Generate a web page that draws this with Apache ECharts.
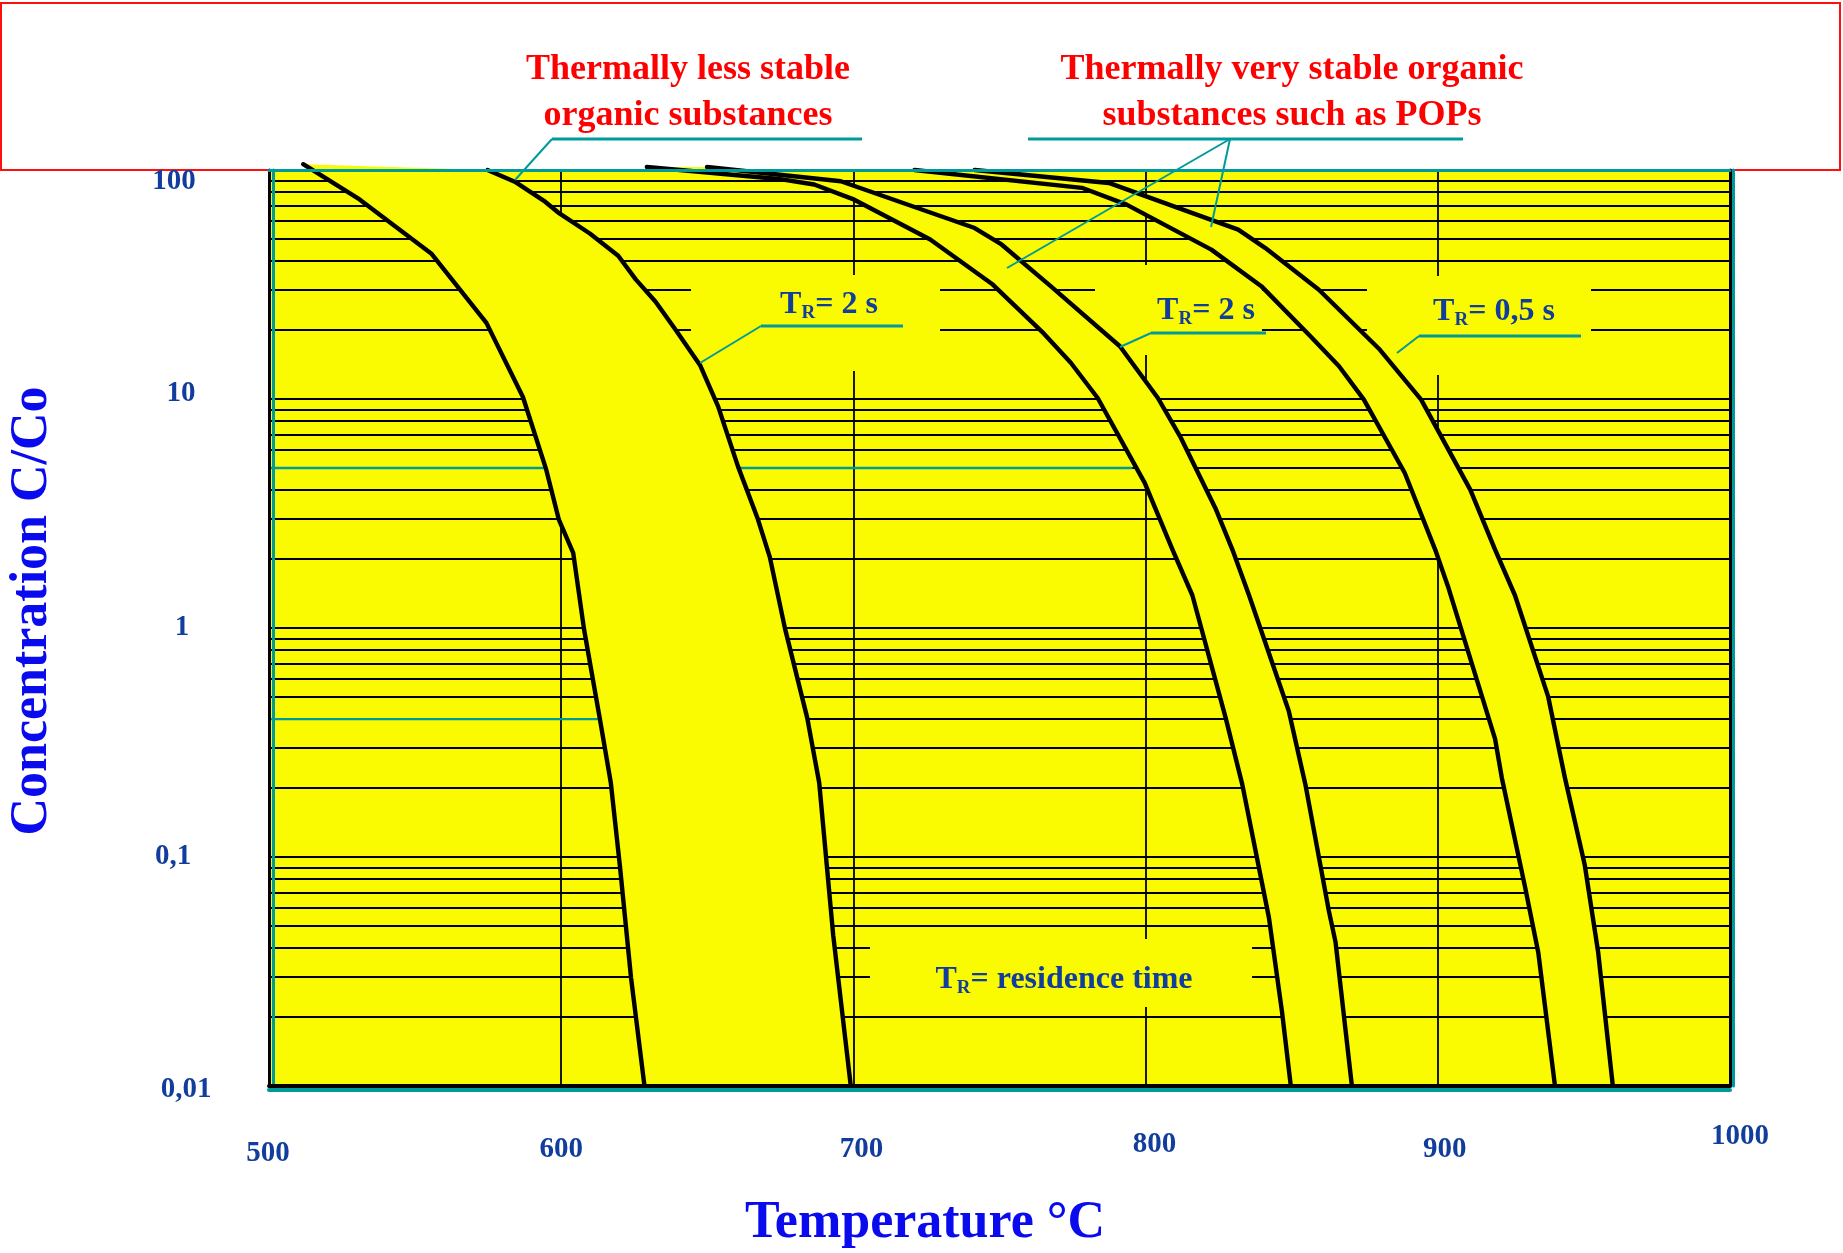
<!DOCTYPE html>
<html>
<head>
<meta charset="utf-8">
<title>Thermal destruction of organic substances</title>
<script src="https://cdn.jsdelivr.net/npm/echarts@6.0.0/dist/echarts.min.js"></script>
<style>
  html, body { margin: 0; padding: 0; background: #fff; }
  #chart { width: 1843px; height: 1253px; }
</style>
</head>
<body>
<div id="chart"></div>
<script>
// axis ticks
var tempTicks = [500, 600, 700, 800, 900, 1000];
var concTicks = [0.01, 0.1, 1, 10, 100];
var concTickLabels = ['0,01', '0,1', '1', '10', '100'];

// gridline layout of the log paper: decades x steps
var gridDecades = [0.01, 0.1, 1, 10];
var gridSteps = [1, 2, 3, 4, 5, 6, 7, 8, 9];

// curves, [temperature °C, C/Co]
var lessStableLow = [[511.7, 106], [531.0, 74.4], [555.5, 43.2], [574.4, 21.5], [586.9, 10.2],
  [594.9, 4.9], [599.2, 2.97], [604.1, 2.13], [607.8, 0.99], [613.2, 0.403], [617.0, 0.21],
  [620.1, 0.0912], [623.9, 0.0297], [628.5, 0.01]];
var lessStableHigh = [[574.8, 100], [584.1, 88.9], [594.5, 72.7], [599.4, 64.6], [609.8, 52.8],
  [619.5, 42.2], [625.5, 33.3], [632.3, 26.6], [639.2, 20.0], [647.6, 14.0], [653.7, 9.29],
  [660.5, 5.08], [667.3, 2.99], [671.4, 2.04], [676.6, 0.994], [684.2, 0.405], [688.3, 0.211],
  [693.1, 0.0454], [699.1, 0.01]];
var stable2sLow = [[629.3, 103], [674.4, 91.4], [686.6, 86.4], [700.3, 74.2], [726.3, 49.7],
  [747.7, 31.6], [764.5, 19.7], [774.4, 14.4], [783.6, 10.1], [799.7, 4.3], [809.2, 2.2],
  [816.0, 1.39], [827.4, 0.405], [833.1, 0.207], [842.2, 0.0544], [846.7, 0.021], [849.7, 0.01]];
var stable2sHigh = [[649.9, 103], [695.7, 89.3], [741.5, 55.8], [750.7, 47.3], [767.5, 31.1],
  [791.2, 17.0], [804.2, 10.1], [811.8, 6.87], [824.1, 3.29], [829.7, 2.2], [835.4, 1.39],
  [849.0, 0.434], [854.7, 0.207], [862.7, 0.0583], [865.0, 0.0425], [870.6, 0.01]];
var stable05sLow = [[720.9, 100], [778.2, 83.6], [793.5, 70.6], [822.5, 44.9], [839.6, 31.1],
  [856.4, 18.8], [866.2, 13.9], [874.7, 9.94], [888.7, 4.75], [899.1, 2.2], [903.7, 1.49],
  [919.6, 0.328], [921.9, 0.222], [929.8, 0.0746], [934.4, 0.0382], [940.1, 0.01]];
var stable05sHigh = [[741.5, 100], [787.4, 87.8], [831.7, 54.9], [841.0, 45.6], [859.3, 30.0],
  [880.2, 16.4], [894.3, 9.94], [911.1, 4.02], [919.6, 2.2], [926.4, 1.39], [937.8, 0.5],
  [943.5, 0.222], [950.3, 0.0922], [954.9, 0.0382], [959.9, 0.01]];

// teal highlighted pieces of gridlines: [from °C, to °C, C/Co]
var tealGrid = [[500, 595, 5], [660.5, 795.5, 5], [500, 613, 0.4]];

var bandPairs = [
  [lessStableLow, lessStableHigh],
  [stable2sLow, stable2sHigh],
  [stable05sLow, stable05sHigh]
];
var curves = [lessStableLow, lessStableHigh, stable2sLow, stable2sHigh, stable05sLow, stable05sHigh];

var FONT = "'Liberation Serif', 'DejaVu Serif', serif";
var YELLOW = '#fafa00';
var TEAL = '#009a9a';
var NAVY = '#113d9c';
var BLUE = '#0a0aee';

// label nudges in px [dx, dy]
var xLabelNudge = { 500: [-1, 4], 600: [0, 0], 700: [8, 0], 800: [9, -5], 900: [7, 0], 1000: [10, -13] };
var yLabelNudge = [[7, 4], [-6, 0], [3, 0], [2, -5], [-5, 12]];

function nudgePad(d) {
  var dx = d[0], dy = d[1];
  return [dy > 0 ? 2 * dy : 0, dx < 0 ? -2 * dx : 0, dy < 0 ? -2 * dy : 0, dx > 0 ? 2 * dx : 0];
}

var tickStyle = { fontFamily: FONT, fontWeight: 'bold', fontSize: 29, color: NAVY };
var xRich = {};
tempTicks.forEach(function (t) {
  xRich['x' + t] = Object.assign({ padding: nudgePad(xLabelNudge[t]) }, tickStyle);
});
var yRich = {};
concTicks.forEach(function (c, i) {
  yRich['y' + i] = Object.assign({ padding: nudgePad(yLabelNudge[i]) }, tickStyle);
});

var gridMarks = [];
gridDecades.forEach(function (d) {
  gridSteps.forEach(function (s) {
    if (d === 0.01 && s === 1) return;
    gridMarks.push({ yAxis: d * s });
  });
});
tempTicks.slice(1, -1).forEach(function (t) {
  gridMarks.push({ xAxis: t, lineStyle: { width: 1.8 } });
});

var chart = echarts.init(document.getElementById('chart'));

var series = [{
  type: 'line',
  data: [],
  z: 1,
  silent: true,
  markLine: {
    z: 1,
    silent: true,
    animation: false,
    symbol: ['none', 'none'],
    label: { show: false },
    lineStyle: { color: '#000', width: 2.2, type: 'solid' },
    data: gridMarks
  }
}];

tealGrid.forEach(function (g) {
  series.push({
    type: 'line',
    z: 1.2,
    silent: true,
    symbol: 'none',
    lineStyle: { color: TEAL, width: 2.4 },
    data: [[g[0], g[2]], [g[1], g[2]]]
  });
});

series.push({
  type: 'custom',
  z: 3,
  clip: false,
  silent: true,
  data: bandPairs.map(function (p, i) { return [p[0][0][0], p[0][0][1], i]; }),
  encode: { x: 0, y: 1 },
  renderItem: function (params, api) {
    var pair = bandPairs[api.value(2)];
    var pts = pair[0].concat(pair[1].slice().reverse()).map(function (p) {
      return api.coord(p);
    });
    return { type: 'polygon', shape: { points: pts }, style: { fill: YELLOW } };
  }
});

curves.forEach(function (c) {
  series.push({
    type: 'line',
    z: 4,
    clip: false,
    silent: true,
    symbol: 'none',
    lineStyle: { color: '#000', width: 4.4, cap: 'round', join: 'round' },
    data: c
  });
});

function trText(x, y, rest) {
  return {
    type: 'text', x: x, y: y, z: 20, silent: true,
    style: {
      text: '{t|T}{r|R}{t|' + rest + '}',
      align: 'center',
      verticalAlign: 'middle',
      rich: {
        t: { fontSize: 32, fontWeight: 'bold', fontFamily: FONT, fill: NAVY },
        r: { fontSize: 19, fontWeight: 'bold', fontFamily: FONT, fill: NAVY, padding: [16, 0, 0, 0] }
      }
    }
  };
}

function box(x, y, w, h) {
  return { type: 'rect', z: 2, silent: true, shape: { x: x, y: y, width: w, height: h }, style: { fill: YELLOW } };
}

function leader(points, width) {
  return { type: 'polyline', z: 20, silent: true, shape: { points: points }, style: { stroke: TEAL, lineWidth: width, fill: null } };
}

function redTitle(x, text) {
  return {
    type: 'text', x: x, y: 93, z: 20, silent: true,
    style: {
      text: text, align: 'center', verticalAlign: 'middle',
      fontSize: 36, fontWeight: 'bold', fontFamily: FONT, fill: '#ff0000', lineHeight: 46
    }
  };
}

var graphics = [
  { type: 'rect', z: -1, silent: true, shape: { x: 1, y: 3, width: 1839, height: 167 }, style: { fill: 'none', stroke: '#ff1010', lineWidth: 2 } },
  box(691, 275, 249, 96),
  box(1095, 265, 167, 90),
  box(1367, 276, 224, 99),
  box(870, 939, 382, 68),
  redTitle(688, 'Thermally less stable\norganic substances'),
  redTitle(1292, 'Thermally very stable organic\nsubstances such as POPs'),
  leader([[862, 139], [552, 139]], 3),
  leader([[552, 139], [515, 180]], 2),
  leader([[1028, 139], [1463, 139]], 3),
  leader([[1230, 139], [1007, 268]], 2),
  leader([[1230, 139], [1211, 227]], 2),
  leader([[903, 326], [761, 326]], 3),
  leader([[761, 326], [700, 363]], 2),
  leader([[1266, 333], [1151, 333]], 3),
  leader([[1151, 333], [1120, 347]], 2),
  leader([[1581, 336], [1419, 336]], 3),
  leader([[1419, 336], [1397, 353]], 2),
  trText(829, 305, '= 2 s'),
  trText(1206, 311, '= 2 s'),
  trText(1494, 312, '= 0,5 s'),
  trText(1064, 980, '= residence time')
];

var option = {
  animation: false,
  backgroundColor: '#fff',
  grid: {
    left: 269, right: 113, top: 170, bottom: 167,
    containLabel: false,
    outerBoundsMode: 'none',
    show: true,
    backgroundColor: YELLOW,
    borderWidth: 0
  },
  xAxis: [{
    type: 'value',
    position: 'bottom',
    min: 500, max: 1000, interval: 100,
    z: 10,
    axisLine: { show: true, onZero: false, lineStyle: { color: '#000', width: 4, shadowColor: TEAL, shadowOffsetY: 4, shadowBlur: 0 } },
    axisTick: { show: false },
    splitLine: { show: false },
    axisLabel: {
      margin: 64,
      verticalAlign: 'middle',
      showMinLabel: true,
      showMaxLabel: true,
      formatter: function (v) { return '{x' + v + '|' + v + '}'; },
      rich: xRich
    },
    name: 'Temperature °C',
    nameLocation: 'middle',
    nameGap: 112,
    nameTextStyle: { fontFamily: FONT, fontWeight: 'bold', fontSize: 52, color: BLUE, padding: [0, 149, 0, 0] }
  }, {
    type: 'value',
    position: 'top',
    min: 500, max: 1000,
    z: 10,
    axisLine: { show: true, onZero: false, lineStyle: { color: TEAL, width: 3 } },
    axisTick: { show: false },
    axisLabel: { show: false },
    splitLine: { show: false }
  }],
  yAxis: [{
    type: 'log',
    logBase: 10,
    position: 'left',
    min: 0.01, max: 100,
    z: 10,
    axisLine: { show: true, onZero: false, lineStyle: { color: '#000', width: 3, shadowColor: TEAL, shadowOffsetX: 4, shadowBlur: 0 } },
    axisTick: { show: false },
    splitLine: { show: false },
    axisLabel: {
      margin: 90,
      align: 'center',
      showMinLabel: true,
      showMaxLabel: true,
      formatter: function (v) {
        var i = Math.round(Math.log10(v)) + 2;
        return '{y' + i + '|' + concTickLabels[i] + '}';
      },
      rich: yRich
    },
    name: 'Concentration C/Co',
    nameLocation: 'middle',
    nameGap: 210,
    nameTextStyle: { fontFamily: FONT, fontWeight: 'bold', fontSize: 52, color: BLUE, padding: [0, 0, 0, 34] }
  }, {
    type: 'log',
    logBase: 10,
    position: 'right',
    min: 0.01, max: 100,
    z: 10,
    axisLine: { show: true, onZero: false, lineStyle: { color: '#000', width: 3, shadowColor: TEAL, shadowOffsetX: 3, shadowBlur: 0 } },
    axisTick: { show: false },
    axisLabel: { show: false },
    splitLine: { show: false }
  }],
  graphic: { elements: graphics },
  series: series
};

chart.setOption(option);
</script>
</body>
</html>
